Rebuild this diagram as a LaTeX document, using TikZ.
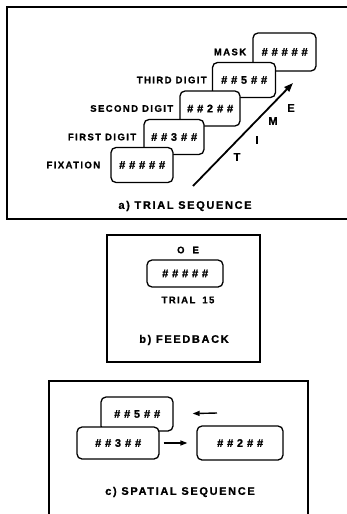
\documentclass[tikz,border=0pt]{standalone}
\usepackage{fontspec}
\setmainfont{Liberation Sans}[BoldFeatures={FakeBold=1}]
\newfontfamily\lblfont{Liberation Sans}[LetterSpace=15, BoldFeatures={FakeBold=1}]
\newfontfamily\hashfont{Liberation Sans}[LetterSpace=35, BoldFeatures={FakeBold=1}, BoldItalicFeatures={FakeBold=1.5}]
\usetikzlibrary{positioning,arrows.meta}
\tikzset{
  screen/.style={rounded corners=5pt, draw, line width=1.3pt, fill=white,
                 inner sep=0pt, minimum width=61pt, minimum height=35pt,
                 font=\hashfont\bfseries\itshape\fontsize{11}{12}\selectfont},
  lbl/.style={font=\lblfont\bfseries\fontsize{9.5}{11}\selectfont, inner sep=1pt},
  captxt/.style={font=\lblfont\bfseries\fontsize{11}{13}\selectfont, inner sep=1pt},
  tim/.style={font=\bfseries\fontsize{11}{13}\selectfont, inner sep=0pt},
  panel/.style={line width=1.2pt},
  ar/.style={-{Triangle[length=9pt, width=6.5pt]}, line width=1.8pt},
  ars/.style={-{Triangle[length=7pt, width=5pt]}, line width=1.4pt},
}
\newcommand{\dg}[1]{\hspace{0.35em}{\upshape #1}\hspace{0.35em}}

\begin{document}
\begin{tikzpicture}[x=1pt, y=-1pt]
    \useasboundingbox (0,0) rectangle (347,514);

    % panel frames
    \draw[panel] (347,7) -- (7,7) -- (7,219) -- (347,219);
    \draw[panel] (107,235) rectangle (260,362);
    \draw[panel] (49,514) -- (49,381) -- (308,381) -- (308,514);

    % a) trial sequence -- back to front
    \node[screen, minimum width=63pt, minimum height=38pt] (mask) at (284.5,52) {\#\#\#\#\#};
    \node[screen, minimum width=63pt] (third)  at (244,80)    {\#\#\dg{5}\#\#};
    \node[screen, minimum width=60pt] (second) at (210,108.5) {\#\#\dg{2}\#\#};
    \node[screen, minimum width=60pt] (first)  at (174,137)   {\#\#\dg{3}\#\#};
    \node[screen, minimum width=62pt] (fix)    at (142,165)   {\#\#\#\#\#};

    \node[lbl, left=5pt of mask]   (lmask)   {MASK};
    \node[lbl, left=4pt of third]  (lthird)  {THIRD DIGIT};
    \node[lbl, left=5pt of second] (lsecond) {SECOND DIGIT};
    \node[lbl, left=6pt of first]  (lfirst)  {FIRST DIGIT};
    \node[lbl, left=9pt of fix]    (lfix)    {FIXATION};

    \coordinate (t0) at (193,186);
    \coordinate (t1) at (293,83);
    \draw[ar] (t0) -- (t1);
    \node[tim] (tT) at (237,157) {T};
    \node[tim] (tI) at (257,140) {I};
    \node[tim] (tM) at (273,121) {M};
    \node[tim] (tE) at (291,108) {E};

    \node[captxt] (capa) at (185,206) {a) TRIAL SEQUENCE};

    % b) feedback
    \node[screen, minimum width=76pt, minimum height=27pt] (fb) at (185,273.5) {\#\#\#\#\#};
    \node[lbl] (fbok)    at (188,250) {O\hspace{4pt} E};
    \node[lbl] (fbtrial) at (188,300) {TRIAL\hspace{3pt} 15};
    \node[captxt] (capb) at (184,340) {b) FEEDBACK};

    % c) spatial sequence
    \node[screen, minimum width=72pt, minimum height=34pt] (c5) at (137,414) {\#\#\dg{5}\#\#};
    \node[screen, minimum width=82pt, minimum height=32pt] (c3) at (118,443) {\#\#\dg{3}\#\#};
    \node[screen, minimum width=86pt, minimum height=34pt] (c2) at (240,443) {\#\#\dg{2}\#\#};
    \draw[ars, shorten <=4pt, shorten >=9pt] (c3.east) -- (c2.west);
    \coordinate (back) at (217,413);
    \draw[ars, shorten >=19pt] (back) -- (c5.east);

    \node[captxt] (capc) at (180,492) {c) SPATIAL SEQUENCE};
\end{tikzpicture}
\end{document}
